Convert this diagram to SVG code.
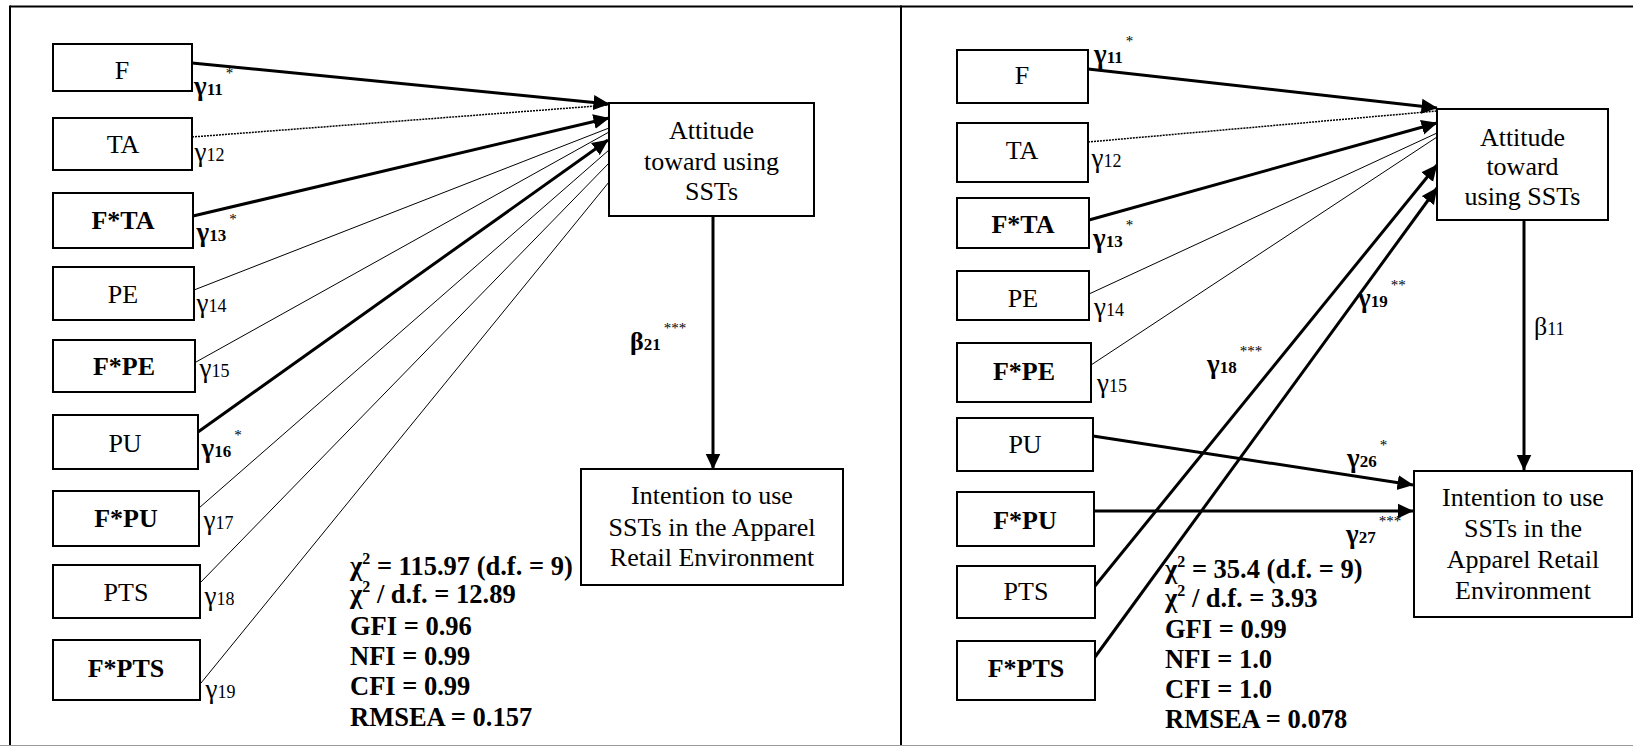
<svg xmlns="http://www.w3.org/2000/svg" width="1633" height="746" viewBox="0 0 1633 746">
<style>
.box{fill:#fff;stroke:#000;stroke-width:2}
.lbl{font-family:"Liberation Serif","Times New Roman",serif;font-size:26px;text-anchor:middle;fill:#000}
.b{font-weight:bold}
.big{font-family:"Liberation Serif","Times New Roman",serif;font-size:26px;text-anchor:middle;fill:#000}
.g{font-family:"Liberation Serif","Times New Roman",serif;font-size:27px;fill:#000}
.gb{font-family:"Liberation Serif","Times New Roman",serif;font-size:27px;font-weight:bold;fill:#000}
.sub{font-size:18px}
.subb{font-size:17px}
.st{font-size:15px;font-weight:normal}
.stat{font-family:"Liberation Serif","Times New Roman",serif;font-size:26.5px;font-weight:bold;fill:#000}
.sup{font-size:16px}
.thick{stroke:#000;stroke-width:3;fill:none}
.thin{stroke:#000;stroke-width:1;fill:none}
.dot{stroke:#000;stroke-width:1.5;fill:none;stroke-dasharray:2 1}
.frame{stroke:#000;stroke-width:2;fill:none}
</style>
<defs>
<marker id="ah" markerUnits="userSpaceOnUse" markerWidth="16" markerHeight="16" viewBox="0 0 16 15" refX="15.5" refY="7.5" orient="auto">
<path d="M0,0 L16,7.5 L0,15 z" fill="#000"/>
</marker>
</defs>

<g id="frame">
<line class="frame" x1="10" y1="6.5" x2="1633" y2="6.5"/>
<line class="frame" x1="10" y1="5.5" x2="10" y2="746"/>
<line class="frame" x1="901" y1="5.5" x2="901" y2="746"/>
<line x1="0" y1="745.5" x2="1633" y2="745.5" stroke="#999" stroke-width="1"/>
</g>

<g id="connectors">
<!-- left panel -->
<line class="thick" x1="192" y1="63" x2="609" y2="104" marker-end="url(#ah)"/>
<line class="dot" x1="192" y1="137" x2="609" y2="105"/>
<line class="thick" x1="193" y1="216" x2="609" y2="118" marker-end="url(#ah)"/>
<line class="thin" x1="194" y1="290" x2="609" y2="128"/>
<line class="thin" x1="196" y1="362" x2="609" y2="132"/>
<line class="thick" x1="198" y1="432" x2="608" y2="140" marker-end="url(#ah)"/>
<line class="thin" x1="199" y1="508" x2="609" y2="150"/>
<line class="thin" x1="200" y1="583" x2="609" y2="163"/>
<line class="thin" x1="201" y1="683" x2="609" y2="182"/>
<line class="thick" x1="713" y1="216" x2="713" y2="469" marker-end="url(#ah)"/>
<!-- right panel -->
<line class="thick" x1="1088" y1="69" x2="1437" y2="108" marker-end="url(#ah)"/>
<line class="dot" x1="1088" y1="142" x2="1437" y2="111"/>
<line class="thick" x1="1089" y1="220" x2="1437" y2="123" marker-end="url(#ah)"/>
<line class="thin" x1="1089" y1="294" x2="1437" y2="133"/>
<line class="thin" x1="1091" y1="365" x2="1437" y2="137"/>
<line class="thick" x1="1093" y1="436" x2="1413" y2="485" marker-end="url(#ah)"/>
<line class="thick" x1="1094" y1="511" x2="1413" y2="511" marker-end="url(#ah)"/>
<line class="thick" x1="1095" y1="586" x2="1437" y2="165" marker-end="url(#ah)"/>
<line class="thick" x1="1095" y1="657" x2="1437" y2="188" marker-end="url(#ah)"/>
<line class="thick" x1="1524" y1="220" x2="1524" y2="470" marker-end="url(#ah)"/>
</g>

<!-- left panel nodes -->
<g id="L-F"><rect class="box" x="53" y="44" width="139" height="47"/><text class="lbl" x="122" y="79">F</text></g>
<g id="L-TA"><rect class="box" x="53" y="118" width="139" height="52"/><text class="lbl" x="123" y="153">TA</text></g>
<g id="L-FTA"><rect class="box" x="53" y="193" width="140" height="55"/><text class="lbl b" x="123" y="229">F*TA</text></g>
<g id="L-PE"><rect class="box" x="53" y="267" width="141" height="53"/><text class="lbl" x="123" y="303">PE</text></g>
<g id="L-FPE"><rect class="box" x="53" y="340" width="142" height="52"/><text class="lbl b" x="124" y="375">F*PE</text></g>
<g id="L-PU"><rect class="box" x="53" y="415" width="145" height="54"/><text class="lbl" x="125" y="452">PU</text></g>
<g id="L-FPU"><rect class="box" x="53" y="491" width="146" height="55"/><text class="lbl b" x="126" y="527">F*PU</text></g>
<g id="L-PTS"><rect class="box" x="53" y="565" width="147" height="53"/><text class="lbl" x="126" y="601">PTS</text></g>
<g id="L-FPTS"><rect class="box" x="53" y="640" width="147" height="60"/><text class="lbl b" x="126" y="677">F*PTS</text></g>
<g id="L-ATT"><rect class="box" x="609" y="103" width="205" height="113"/>
<text class="big" x="711.5" y="139">Attitude</text><text class="big" x="711.5" y="170">toward using</text><text class="big" x="711.5" y="199.5">SSTs</text></g>
<g id="L-INT"><rect class="box" x="581" y="469" width="262" height="116"/>
<text class="big" x="712" y="504">Intention to use</text><text class="big" x="712" y="535.5">SSTs in the Apparel</text><text class="big" x="712" y="566">Retail Environment</text></g>

<!-- left path labels -->
<g id="L-labels">
<text class="gb" x="194" y="95">γ<tspan class="subb">11</tspan><tspan class="st" dx="3" dy="-17">*</tspan></text>
<text class="g" x="194.5" y="161">γ<tspan class="sub">12</tspan></text>
<text class="gb" x="196.5" y="241">γ<tspan class="subb">13</tspan><tspan class="st" dx="3" dy="-17">*</tspan></text>
<text class="g" x="196.5" y="312">γ<tspan class="sub">14</tspan></text>
<text class="g" x="199.5" y="377">γ<tspan class="sub">15</tspan></text>
<text class="gb" x="201.5" y="457">γ<tspan class="subb">16</tspan><tspan class="st" dx="3" dy="-17">*</tspan></text>
<text class="g" x="203.5" y="529">γ<tspan class="sub">17</tspan></text>
<text class="g" x="204.5" y="605">γ<tspan class="sub">18</tspan></text>
<text class="g" x="205.5" y="698">γ<tspan class="sub">19</tspan></text>
<text class="gb" x="630" y="350" style="font-size:26px">β<tspan class="subb">21</tspan><tspan class="st" dx="3" dy="-17">***</tspan></text>
</g>

<g id="L-stats">
<text class="stat" x="350" y="575">χ<tspan class="sup" dy="-11">2</tspan><tspan dy="11"> = 115.97 (d.f. = 9)</tspan></text>
<text class="stat" x="350" y="603">χ<tspan class="sup" dy="-11">2</tspan><tspan dy="11"> / d.f. = 12.89</tspan></text>
<text class="stat" x="350" y="635">GFI = 0.96</text>
<text class="stat" x="350" y="665">NFI = 0.99</text>
<text class="stat" x="350" y="695">CFI = 0.99</text>
<text class="stat" x="350" y="726">RMSEA = 0.157</text>
</g>

<!-- right panel nodes -->
<g id="R-F"><rect class="box" x="957" y="50" width="131" height="53"/><text class="lbl" x="1022" y="84">F</text></g>
<g id="R-TA"><rect class="box" x="957" y="123" width="131" height="59"/><text class="lbl" x="1022" y="159">TA</text></g>
<g id="R-FTA"><rect class="box" x="957" y="198" width="132" height="50"/><text class="lbl b" x="1023" y="233">F*TA</text></g>
<g id="R-PE"><rect class="box" x="957" y="271" width="132" height="49"/><text class="lbl" x="1023" y="307">PE</text></g>
<g id="R-FPE"><rect class="box" x="957" y="343" width="134" height="59"/><text class="lbl b" x="1024" y="380">F*PE</text></g>
<g id="R-PU"><rect class="box" x="957" y="418" width="136" height="53"/><text class="lbl" x="1025" y="453">PU</text></g>
<g id="R-FPU"><rect class="box" x="957" y="492" width="137" height="54"/><text class="lbl b" x="1025" y="529">F*PU</text></g>
<g id="R-PTS"><rect class="box" x="957" y="566" width="138" height="52"/><text class="lbl" x="1026" y="600">PTS</text></g>
<g id="R-FPTS"><rect class="box" x="957" y="641" width="138" height="59"/><text class="lbl b" x="1026" y="677">F*PTS</text></g>
<g id="R-ATT"><rect class="box" x="1437" y="109" width="171" height="111"/>
<text class="big" x="1522.5" y="145.5">Attitude</text><text class="big" x="1522.5" y="175">toward</text><text class="big" x="1522.5" y="205">using SSTs</text></g>
<g id="R-INT"><rect class="box" x="1414" y="471" width="218" height="146"/>
<text class="big" x="1523" y="506">Intention to use</text><text class="big" x="1523" y="537">SSTs in the</text><text class="big" x="1523" y="568">Apparel Retail</text><text class="big" x="1523" y="598.5">Environment</text></g>

<g id="R-labels">
<text class="gb" x="1094" y="63">γ<tspan class="subb">11</tspan><tspan class="st" dx="3" dy="-17">*</tspan></text>
<text class="g" x="1091.5" y="167">γ<tspan class="sub">12</tspan></text>
<text class="gb" x="1093" y="247">γ<tspan class="subb">13</tspan><tspan class="st" dx="3" dy="-17">*</tspan></text>
<text class="g" x="1094" y="316">γ<tspan class="sub">14</tspan></text>
<text class="g" x="1097" y="392">γ<tspan class="sub">15</tspan></text>
<text class="gb" x="1207" y="373">γ<tspan class="subb">18</tspan><tspan class="st" dx="3" dy="-17">***</tspan></text>
<text class="gb" x="1358" y="307">γ<tspan class="subb">19</tspan><tspan class="st" dx="3" dy="-17">**</tspan></text>
<text class="g" x="1534" y="335" style="font-size:26px">β<tspan class="sub">11</tspan></text>
<text class="gb" x="1347" y="467">γ<tspan class="subb">26</tspan><tspan class="st" dx="3" dy="-17">*</tspan></text>
<text class="gb" x="1346" y="543">γ<tspan class="subb">27</tspan><tspan class="st" dx="3" dy="-17">***</tspan></text>
</g>

<g id="R-stats">
<text class="stat" x="1165" y="578">χ<tspan class="sup" dy="-11">2</tspan><tspan dy="11"> = 35.4 (d.f. = 9)</tspan></text>
<text class="stat" x="1165" y="607">χ<tspan class="sup" dy="-11">2</tspan><tspan dy="11"> / d.f. = 3.93</tspan></text>
<text class="stat" x="1165" y="638">GFI = 0.99</text>
<text class="stat" x="1165" y="668">NFI = 1.0</text>
<text class="stat" x="1165" y="698">CFI = 1.0</text>
<text class="stat" x="1165" y="728">RMSEA = 0.078</text>
</g>
</svg>
